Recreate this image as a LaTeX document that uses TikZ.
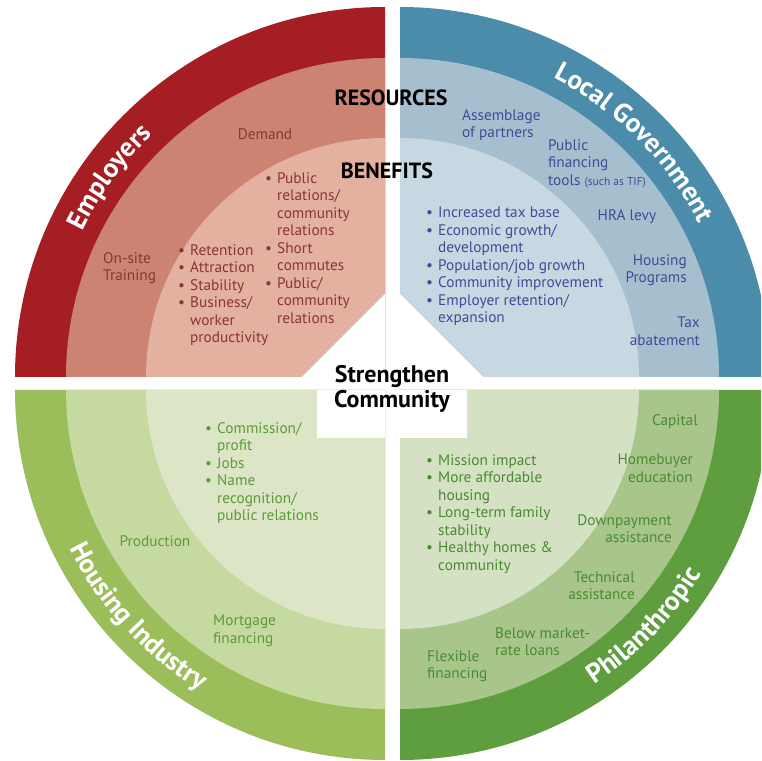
\documentclass[tikz,border=0pt]{standalone}
\usepackage{fontspec}
\setmainfont{PT Sans}
\setsansfont{PT Sans}
\usetikzlibrary{decorations.text}
\definecolor{reddark}{HTML}{A41E24}
\definecolor{redmid}{HTML}{CC8372}
\definecolor{redlight}{HTML}{E4B0A0}
\definecolor{redtext}{HTML}{8A3536}
\definecolor{bluedark}{HTML}{4A8CA9}
\definecolor{bluemid}{HTML}{A6BFCF}
\definecolor{bluelight}{HTML}{C8D8E2}
\definecolor{bluetext}{HTML}{3F4C97}
\definecolor{hgdark}{HTML}{9BBD5A}
\definecolor{hgmid}{HTML}{C6D9A0}
\definecolor{hglight}{HTML}{DCE6C6}
\definecolor{hgtext}{HTML}{5C9B3A}
\definecolor{pgdark}{HTML}{5E9E3E}
\definecolor{pgmid}{HTML}{A8C68C}
\definecolor{pglight}{HTML}{D5E1C3}
\definecolor{pgtext}{HTML}{4A8A32}
\newcommand\bitem{\makebox[12pt][l]{\textbullet}}
\newcommand\bcont{\hspace*{12pt}}
\newcommand\titlefont{\color{white}\bfseries\fontsize{27}{30}\selectfont}
\begin{document}
\begin{tikzpicture}[x=1pt,y=1pt,
  lbl/.style={inner sep=0pt, font=\fontsize{15.3}{17.5}\selectfont},
  head/.style={inner sep=0pt, font=\bfseries\fontsize{22}{25}\selectfont, text=black, align=center},
  arctext/.style={decorate, decoration={text along path, text align=center, text={#1}}}]
\useasboundingbox (0,0) rectangle (761,761);
\clip (0,0) rectangle (761,761);
\fill[white] (0,0) rectangle (761,761);

% Employers quadrant
\begin{scope}[shift={(385,384)}]
  \fill[reddark] (0,0) -- (180:370) arc[start angle=180,end angle=90,radius=370] -- cycle;
  \fill[redmid] (0,0) -- (180:319) arc[start angle=180,end angle=90,radius=319] -- cycle;
  \fill[redlight] (0,0) -- (180:239) arc[start angle=180,end angle=90,radius=239] -- cycle;
  \fill[white] (0,0) -- (-83,0) -- (0,83) -- cycle;
  \path[arctext={|\titlefont|Employers}] (170:336) arc[start angle=170,end angle=118,radius=336];
\end{scope}

% Local Government quadrant
\begin{scope}[shift={(400,384)}]
  \fill[bluedark] (0,0) -- (90:370) arc[start angle=90,end angle=0,radius=370] -- cycle;
  \fill[bluemid] (0,0) -- (90:319) arc[start angle=90,end angle=0,radius=319] -- cycle;
  \fill[bluelight] (0,0) -- (90:239) arc[start angle=90,end angle=0,radius=239] -- cycle;
  \fill[white] (0,0) -- (83,0) -- (0,83) -- cycle;
  \path[arctext={|\titlefont|Local Government}] (83:336) arc[start angle=83,end angle=7,radius=336];
\end{scope}

% Housing Industry quadrant
\begin{scope}[shift={(385,371)}]
  \fill[hgdark] (0,0) -- (180:370) arc[start angle=180,end angle=270,radius=370] -- cycle;
  \fill[hgmid] (0,0) -- (180:319) arc[start angle=180,end angle=270,radius=319] -- cycle;
  \fill[hglight] (0,0) -- (180:239) arc[start angle=180,end angle=270,radius=239] -- cycle;
  \fill[white] (-68,0) rectangle (0,-48);
  \path[arctext={|\titlefont|Housing Industry}] (187:353) arc[start angle=187,end angle=258,radius=353];
\end{scope}

% Philanthropic quadrant
\begin{scope}[shift={(400,371)}]
  \fill[pgdark] (0,0) -- (270:370) arc[start angle=270,end angle=360,radius=370] -- cycle;
  \fill[pgmid] (0,0) -- (270:319) arc[start angle=270,end angle=360,radius=319] -- cycle;
  \fill[pglight] (0,0) -- (270:239) arc[start angle=270,end angle=360,radius=239] -- cycle;
  \fill[white] (0,0) rectangle (67,-48);
  \path[arctext={|\titlefont|Philanthropic}] (280:353) arc[start angle=280,end angle=352,radius=353];
\end{scope}

% centre headings
\node[head] (res) at (391,663) {RESOURCES};
\node[head] (ben) at (387,590) {BENEFITS};
\node[head, font=\bfseries\fontsize{24}{25.5}\selectfont] (core) at (392,372) {Strengthen\\Community};

% Employers texts
\node[lbl, text=redtext] (demand) at (265,627) {Demand};
\node[lbl, text=redtext, anchor=north west, align=left] (onsite) at (103,509) {On-site\\Training};
\node[lbl, text=redtext, anchor=north west, align=left] (eben1) at (178,517)
  {\bitem Retention\\\bitem Attraction\\\bitem Stability\\\bitem Business/\\\bcont worker\\\bcont productivity};
\node[lbl, text=redtext, anchor=north west, align=left] (eben2) at (265,589)
  {\bitem Public\\\bcont relations/\\\bcont community\\\bcont relations\\\bitem Short\\\bcont commutes\\\bitem Public/\\\bcont community\\\bcont relations};

% Local Government texts
\node[lbl, text=bluetext, anchor=north west, align=left] (assem) at (462,652) {Assemblage\\of partners};
\node[lbl, text=bluetext, anchor=north west, align=left] (pubfin) at (548,622)
  {Public\\financing\\tools {\fontsize{11.5}{12}\selectfont(such as TIF)}};
\node[lbl, text=bluetext] (hra) at (627,544) {HRA levy};
\node[lbl, text=bluetext, anchor=north east, align=right] (hprog) at (687,507) {Housing\\Programs};
\node[lbl, text=bluetext, anchor=north east, align=right] (taxab) at (700,444) {Tax\\abatement};
\node[lbl, text=bluetext, anchor=north west, align=left] (gben) at (426,554)
  {\bitem Increased tax base\\\bitem Economic growth/\\\bcont development\\\bitem Population/job growth\\\bitem Community improvement\\\bitem Employer retention/\\\bcont expansion};

% Housing Industry texts
\node[lbl, text=hgtext, anchor=north west, align=left] (hben) at (205,339)
  {\bitem Commission/\\\bcont profit\\\bitem Jobs\\\bitem Name\\\bcont recognition/\\\bcont public relations};
\node[lbl, text=hgtext] (prod) at (155,220) {Production};
\node[lbl, text=hgtext, anchor=north west, align=left] (mort) at (213,146) {Mortgage\\financing};

% Philanthropic texts
\node[lbl, text=pgtext, anchor=east] (capital) at (698,339) {Capital};
\node[lbl, text=pgtext, anchor=north east, align=right] (homeb) at (693,307) {Homebuyer\\education};
\node[lbl, text=pgtext, anchor=north east, align=right] (downp) at (672,247) {Downpayment\\assistance};
\node[lbl, text=pgtext, anchor=north east, align=right] (techa) at (635,190) {Technical\\assistance};
\node[lbl, text=pgtext, anchor=north west, align=left] (below) at (495,134) {Below market-\\rate loans};
\node[lbl, text=pgtext, anchor=north west, align=left] (flex) at (427,111) {Flexible\\financing};
\node[lbl, text=pgtext, anchor=north west, align=left] (pben) at (426,307)
  {\bitem Mission impact\\\bitem More affordable\\\bcont housing\\\bitem Long-term family\\\bcont stability\\\bitem Healthy homes \&\\\bcont community};
\end{tikzpicture}
\end{document}
